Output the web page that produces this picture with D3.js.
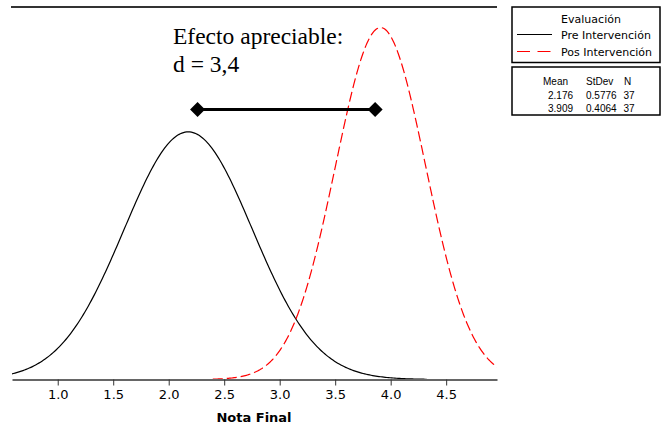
<!DOCTYPE html>
<html>
<head>
<meta charset="utf-8">
<script src="https://cdn.jsdelivr.net/npm/d3@7"></script>
<style>
  body { margin: 0; background: #fff; }
  svg { display: block; }
</style>
</head>
<body>
<div class="container"></div>
<script>
const groups = ["Pre Intervención", "Pos Intervención"];
const means = [2.176, 3.909];
const stdevs = [0.5776, 0.4064];
const counts = [37, 37];

// x axis ticks
const xTicks = [1.0, 1.5, 2.0, 2.5, 3.0, 3.5, 4.0, 4.5];

// effect size bar (ends in Nota Final units, height in density units)
const effectEnds = [2.26, 3.86];
const effectLevel = [0.753];
const effectLabel = ["Efecto apreciable:", "d = 3,4"];

const width = 661;
const height = 427;

const svg = d3.select(".container")
              .append("svg")
              .attr("width", width)
              .attr("height", height);

// scales
const x = d3.scaleLinear().domain([0.588, 4.958]).range([12, 497]);
const y = d3.scaleLinear().domain([0, 1.039]).range([379.5, 7]);

const colors = ["#000000", "#ff0000"];
const dashes = [null, "10,4"];

// normal density curve for each group, mean +/- 3.72 sd, clipped to plot
const pdf = (v, m, s) => Math.exp(-0.5 * ((v - m) / s) ** 2) / (s * Math.sqrt(2 * Math.PI));

svg.append("clipPath").attr("id", "plotclip")
   .append("rect").attr("x", 12).attr("y", 0).attr("width", 485).attr("height", 381);

const line = d3.line().x(d => x(d[0])).y(d => y(d[1]));

groups.forEach((g, i) => {
  const lo = means[i] - 3.72 * stdevs[i];
  const hi = means[i] + 3.72 * stdevs[i];
  const pts = d3.range(0, 301).map(k => {
    const v = lo + (hi - lo) * k / 300;
    return [v, pdf(v, means[i], stdevs[i])];
  });
  svg.append("path")
     .datum(pts)
     .attr("clip-path", "url(#plotclip)")
     .attr("d", line)
     .attr("fill", "none")
     .attr("stroke", colors[i])
     .attr("stroke-width", 1.2)
     .attr("stroke-dasharray", dashes[i]);
});

// top frame line
svg.append("line")
   .attr("x1", 11).attr("x2", 497)
   .attr("y1", 7).attr("y2", 7)
   .attr("stroke", "#333")
   .attr("stroke-width", 2);

// x axis
const xAxis = d3.axisBottom(x)
                .tickValues(xTicks)
                .tickFormat(d3.format(".1f"))
                .tickSizeInner(6)
                .tickSizeOuter(0)
                .tickPadding(4);

const ax = svg.append("g")
   .attr("transform", "translate(0," + y(0) + ")")
   .call(xAxis);
ax.select(".domain").attr("stroke", "#666").attr("stroke-width", 2);
ax.selectAll(".tick line").attr("stroke", "#333");
ax.selectAll(".tick text")
  .attr("font-family", "DejaVu Sans")
  .attr("font-size", 13)
  .attr("fill", "#000");

svg.append("text")
   .attr("x", 254).attr("y", 422)
   .attr("text-anchor", "middle")
   .attr("font-family", "DejaVu Sans")
   .attr("font-weight", "bold")
   .attr("font-size", 13)
   .text("Nota Final");

// effect annotation
svg.selectAll(".effectText")
   .data(effectLabel)
   .enter()
   .append("text")
   .attr("class", "effectText")
   .attr("x", 173)
   .attr("y", (d, i) => 44 + i * 28)
   .attr("font-family", "Liberation Serif")
   .attr("font-size", 23.5)
   .text(d => d);

svg.append("line")
   .attr("x1", x(effectEnds[0])).attr("x2", x(effectEnds[1]))
   .attr("y1", y(effectLevel[0])).attr("y2", y(effectLevel[0]))
   .attr("stroke", "#000")
   .attr("stroke-width", 3);

svg.selectAll(".diamond")
   .data(effectEnds)
   .enter()
   .append("path")
   .attr("class", "diamond")
   .attr("d", d => {
     const cx = x(d), cy = y(effectLevel[0]), r = 7.5;
     return `M${cx},${cy - r}L${cx + r},${cy}L${cx},${cy + r}L${cx - r},${cy}Z`;
   })
   .attr("fill", "#000");

/* =============== LEGEND =============== */
const legend = svg.append("g").attr("id", "legend");

legend.append("rect")
   .attr("x", 512).attr("y", 7)
   .attr("width", 148).attr("height", 55.5)
   .attr("fill", "none").attr("stroke", "#000").attr("stroke-width", 1.5);

legend.append("text")
   .attr("x", 591).attr("y", 23)
   .attr("text-anchor", "middle")
   .attr("font-family", "DejaVu Sans")
   .attr("font-size", 11)
   .text("Evaluación");

groups.forEach((g, i) => {
  const ly = 34.5 + i * 17;
  legend.append("line")
     .attr("x1", 517).attr("x2", 552)
     .attr("y1", ly).attr("y2", ly)
     .attr("stroke", colors[i])
     .attr("stroke-width", 1.2)
     .attr("stroke-dasharray", i === 1 ? "13,7.5" : null);
  legend.append("text")
     .attr("x", 561).attr("y", ly + 4)
     .attr("font-family", "DejaVu Sans")
     .attr("font-size", 11)
     .text(g);
});

legend.append("rect")
   .attr("x", 512).attr("y", 67)
   .attr("width", 148).attr("height", 48)
   .attr("fill", "none").attr("stroke", "#000").attr("stroke-width", 1.5);

const statFont = (sel) => sel.attr("font-family", "Liberation Sans").attr("font-size", 10);

const headers = ["Mean", "StDev", "N"];
const headerX = [543, 586, 624];
const valueX = [548, 586, 623.5];

headers.forEach((h, j) => {
  legend.append("text").attr("x", headerX[j]).attr("y", 85).call(statFont).text(h);
});

groups.forEach((g, i) => {
  const row = [d3.format(".3f")(means[i]), d3.format(".4f")(stdevs[i]), counts[i]];
  row.forEach((v, j) => {
    legend.append("text").attr("x", valueX[j]).attr("y", 99 + i * 13).call(statFont).text(v);
  });
});
</script>
</body>
</html>
